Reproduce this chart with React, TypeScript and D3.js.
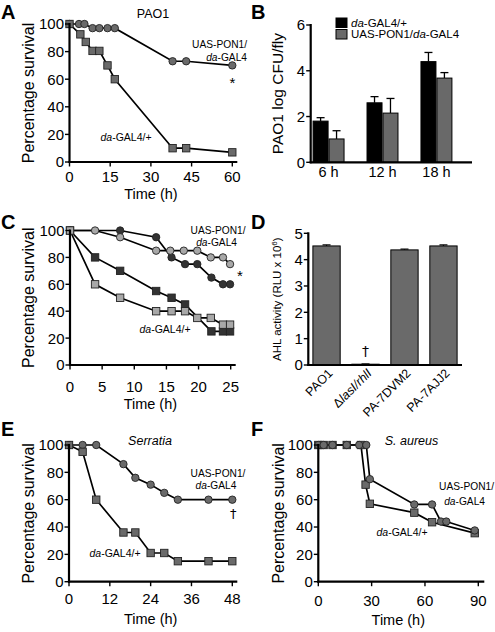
import React from 'react';
import * as d3 from 'd3';

const FONT = "'Liberation Sans', Arial, Helvetica, sans-serif";
const DAGGER_FONT = "'DejaVu Sans', 'Liberation Sans', sans-serif";

// ---------- Panel A (PAO1 survival) ----------
const aTimeUas = [0, 3.5, 5.5, 8.5, 11, 14, 16.7, 38, 43, 60];
const aSurvUas = [100, 100, 100, 97, 97, 97, 97, 73, 73, 70];
const aTimeDa = [0, 4, 6, 8.5, 11, 14, 16.7, 38, 43, 60];
const aSurvDa = [100, 92.5, 87, 80.5, 80.5, 70, 60, 10, 10, 7];
const aXTicks = [0, 15, 30, 45, 60];

// ---------- Panel B (PAO1 log CFU/fly) ----------
const bCategories = ['6 h', '12 h', '18 h'];
const bDaMeans = [1.8, 2.6, 4.4];
const bDaErr = [0.15, 0.27, 0.4];
const bUasMeans = [1.02, 2.15, 3.68];
const bUasErr = [0.36, 0.64, 0.24];
const bYTicks = [0, 2, 4, 6];

// ---------- Panel C (two experiments) ----------
const cDarkCircleT = [0, 7.8, 13.4, 15.8, 17.9, 19.8, 22, 23.8, 24.9];
const cDarkCircleS = [100, 100, 95, 80, 75, 75, 65, 60, 60];
const cLightCircleT = [0, 3.9, 7.8, 13.4, 15.6, 17.7, 19.8, 21.9, 23.8, 24.9];
const cLightCircleS = [100, 100, 95, 85, 85, 85, 85, 80, 80, 75];
const cDarkSquareT = [0, 3.9, 7.8, 13.4, 15.8, 17.9, 22, 23.8, 24.9];
const cDarkSquareS = [100, 80, 70, 55, 50, 45, 25, 25, 25];
const cLightSquareT = [0, 3.9, 7.8, 13.4, 15.8, 17.9, 19.8, 21.9, 23.8, 24.9];
const cLightSquareS = [100, 60, 50, 40, 40, 40, 35, 35, 30, 30];
const cXTicks = [0, 5, 10, 15, 20, 25];

// ---------- Panel D (AHL activity) ----------
const dStrains = ['PAO1', 'Δlas', 'PA-7DVM2', 'PA-7AJJ2'];
const dValues = [4.52, 0.03, 4.37, 4.52];
const dErr = [0.04, 0.01, 0.03, 0.04];
const dYTicks = [0, 1, 2, 3, 4, 5];

// ---------- Panel E (Serratia) ----------
const eTimeUas = [0, 4, 8, 16, 19.5, 24, 28, 32, 41, 48];
const eSurvUas = [100, 100, 100, 86, 76, 71, 65, 60, 60, 60];
const eTimeDa = [0, 4, 8, 16, 19.5, 24, 28, 32, 41, 48];
const eSurvDa = [100, 95, 60, 36, 36, 21, 21, 15, 15, 15];
const eXTicks = [0, 12, 24, 36, 48];

// ---------- Panel F (S. aureus) ----------
const fTimeUas = [0, 3, 8, 16, 23, 27, 29, 54, 64, 69, 72, 88];
const fSurvUas = [100, 100, 100, 100, 100, 100, 75, 56.5, 56.5, 44, 44, 37.5];
const fTimeDa = [0, 3, 8, 16, 24, 26.6, 29, 54, 64, 88];
const fSurvDa = [100, 100, 100, 100, 100, 71, 57, 50.5, 43.5, 35.5];
const fXTicks = [0, 30, 60, 90];

const survYTicks = [0, 20, 40, 60, 80, 100];

type Series = { t: number[]; s: number[]; shape: 'circle' | 'square'; fill: string };

function Symbol({ x, y, shape, fill }: { x: number; y: number; shape: string; fill: string }) {
  if (shape === 'circle') {
    return <circle cx={x} cy={y} r={3.7} fill={fill} stroke="#222" strokeWidth={0.9} />;
  }
  const s = 7.4;
  return <rect x={x - s / 2} y={y - s / 2} width={s} height={s} fill={fill} stroke="#222" strokeWidth={0.9} />;
}

function SurvivalPanel(props: {
  x0: number; x1: number; yTop: number; yBot: number; xMax: number; xTicks: number[];
  series: Series[]; tickBase: number; titleBase: number; yTitleX: number; xExt?: number;
}) {
  const { x0, x1, yTop, yBot, xMax, xTicks, series, tickBase, titleBase, yTitleX } = props;
  const xExt = props.xExt ?? 5;
  const x = d3.scaleLinear().domain([0, xMax]).range([x0, x1]);
  const y = d3.scaleLinear().domain([0, 100]).range([yBot, yTop]);
  return (
    <g>
      {series.map((se, i) => {
        const pts = se.t.map((t, k) => [x(t), y(se.s[k])] as [number, number]);
        return <path key={'l' + i} d={d3.line()(pts) || ''} fill="none" stroke="#000" strokeWidth={1.7} />;
      })}
      {series.map((se, i) => (
        <g key={'s' + i}>
          {se.t.map((t, k) => (
            <Symbol key={k} x={x(t)} y={y(se.s[k])} shape={se.shape} fill={se.fill} />
          ))}
        </g>
      ))}
      <line x1={x0} x2={x0} y1={yBot + 1} y2={yTop - 1} stroke="#000" strokeWidth={2.2} />
      <line x1={x0 - 1} x2={x1 + xExt} y1={yBot} y2={yBot} stroke="#000" strokeWidth={2.2} />
      {survYTicks.map((v) => (
        <g key={'yt' + v}>
          <line x1={x0 - 4.5} x2={x0} y1={y(v)} y2={y(v)} stroke="#000" strokeWidth={1.4} />
          <text x={x0 - 5.5} y={y(v)} dy="0.36em" textAnchor="end" fontSize={15} fontFamily={FONT}>{v}</text>
        </g>
      ))}
      {xTicks.map((v) => (
        <g key={'xt' + v}>
          <line x1={x(v)} x2={x(v)} y1={yBot} y2={yBot + 4.5} stroke="#000" strokeWidth={1.4} />
          <text x={x(v)} y={tickBase} textAnchor="middle" fontSize={15} fontFamily={FONT}>{v}</text>
        </g>
      ))}
      <text x={(x0 + x1) / 2} y={titleBase} textAnchor="middle" fontSize={14.5} fontFamily={FONT}>Time (h)</text>
      <text transform={`translate(${yTitleX},${(yTop + yBot) / 2}) rotate(-90)`} dy="0.36em" textAnchor="middle" fontSize={16} fontFamily={FONT}>Percentage survival</text>
    </g>
  );
}

function PanelB() {
  const ax = 310.7, yBot = 162.3, yTop = 25, xEnd = 472;
  const y = d3.scaleLinear().domain([0, 6]).range([yBot, yTop]);
  const xg = d3.scaleBand<string>().domain(bCategories).range([305, 460]).paddingInner(0.426).paddingOuter(0.15);
  const xs = d3.scaleBand<string>().domain(['da', 'uas']).range([0, xg.bandwidth()]).paddingInner(0.06);
  const groups = [
    { key: 'da', means: bDaMeans, err: bDaErr, fill: '#000' },
    { key: 'uas', means: bUasMeans, err: bUasErr, fill: '#696969' },
  ];
  return (
    <g>
      {groups.map((g) =>
        bCategories.map((c, i) => {
          const bx = (xg(c) || 0) + (xs(g.key) || 0);
          const bw = xs.bandwidth();
          const cx = bx + bw / 2;
          return (
            <g key={g.key + c}>
              <line x1={cx} x2={cx} y1={y(g.means[i])} y2={y(g.means[i] + g.err[i])} stroke="#000" strokeWidth={1.3} />
              <line x1={cx - 4} x2={cx + 4} y1={y(g.means[i] + g.err[i])} y2={y(g.means[i] + g.err[i])} stroke="#000" strokeWidth={1.3} />
              <rect x={bx} y={y(g.means[i])} width={bw} height={yBot - y(g.means[i])} fill={g.fill} stroke="#000" strokeWidth={1} />
            </g>
          );
        })
      )}
      <line x1={ax} x2={ax} y1={yBot + 1} y2={yTop - 1} stroke="#000" strokeWidth={2.2} />
      <line x1={ax - 1} x2={xEnd} y1={yBot} y2={yBot} stroke="#000" strokeWidth={2.2} />
      {bYTicks.map((v) => (
        <g key={v}>
          <line x1={ax - 4.5} x2={ax} y1={y(v)} y2={y(v)} stroke="#000" strokeWidth={1.4} />
          <text x={ax - 5.5} y={y(v)} dy="0.36em" textAnchor="end" fontSize={15} fontFamily={FONT}>{v}</text>
        </g>
      ))}
      {bCategories.map((c) => (
        <text key={c} x={(xg(c) || 0) + xg.bandwidth() / 2} y={176.5} textAnchor="middle" fontSize={14.5} fontFamily={FONT}>{c}</text>
      ))}
      <text transform={`translate(277,${(yTop + yBot) / 2}) rotate(-90)`} dy="0.36em" textAnchor="middle" fontSize={15.5} fontFamily={FONT}>PAO1 log CFU/fly</text>
      <rect x={336} y={18} width={11} height={9.5} fill="#000" stroke="#000" />
      <rect x={336} y={29.5} width={11} height={9.5} fill="#696969" stroke="#000" />
      <text x={351} y={26.5} fontSize={11.5} fontFamily={FONT}><tspan fontStyle="italic">da</tspan>-GAL4/+</text>
      <text x={351} y={38} fontSize={11.5} fontFamily={FONT}>UAS-PON1/<tspan fontStyle="italic">da</tspan>-GAL4</text>
    </g>
  );
}

function PanelD() {
  const ax = 308.3, yBot = 365, yTop = 233.3, xEnd = 462;
  const y = d3.scaleLinear().domain([0, 5]).range([yBot, yTop]);
  const x = d3.scaleBand<string>().domain(dStrains).range([309, 461]).paddingInner(0.3).paddingOuter(0.1);
  return (
    <g>
      {dStrains.map((s, i) => {
        const bx = x(s) || 0;
        const bw = x.bandwidth();
        const cx = bx + bw / 2;
        const top = y(dValues[i] + dErr[i]);
        return (
          <g key={s}>
            <line x1={cx} x2={cx} y1={y(dValues[i])} y2={top} stroke="#000" strokeWidth={1.2} />
            <line x1={cx - 4} x2={cx + 4} y1={top} y2={top} stroke="#000" strokeWidth={1.2} />
            <rect x={bx} y={y(dValues[i])} width={bw} height={Math.max(0.5, yBot - y(dValues[i]))} fill="#6a6a6a" stroke="#000" strokeWidth={1} />
          </g>
        );
      })}
      <line x1={ax} x2={ax} y1={yBot + 1} y2={yTop - 1} stroke="#000" strokeWidth={2.2} />
      <line x1={ax - 1} x2={xEnd} y1={yBot} y2={yBot} stroke="#000" strokeWidth={2.2} />
      {dYTicks.map((v) => (
        <g key={v}>
          <line x1={ax - 4.5} x2={ax} y1={y(v)} y2={y(v)} stroke="#000" strokeWidth={1.4} />
          <text x={ax - 5.5} y={y(v)} dy="0.36em" textAnchor="end" fontSize={15} fontFamily={FONT}>{v}</text>
        </g>
      ))}
      {dStrains.map((s) => {
        const cx = (x(s) || 0) + x.bandwidth() / 2 + 7;
        return (
          <text key={s} transform={`translate(${cx},${yBot + 9}) rotate(-45)`} textAnchor="end" fontSize={12.5} fontFamily={FONT}>
            {s === 'Δlas' ? (<>Δ<tspan fontStyle="italic">lasI/rhlI</tspan></>) : s}
          </text>
        );
      })}
      <text x={(x(dStrains[1]) || 0) + x.bandwidth() / 2} y={356} textAnchor="middle" fontSize={14} fontFamily={DAGGER_FONT} fill="#000">†</text>
      <text transform={`translate(277,${(yTop + yBot) / 2}) rotate(-90)`} dy="0.36em" textAnchor="middle" fontSize={11.5} fontFamily={FONT}>
        AHL activity (RLU x 10<tspan dy={-4} fontSize={8}>6</tspan><tspan dy={4}>)</tspan>
      </text>
    </g>
  );
}

const it = (s: string) => <tspan fontStyle="italic">{s}</tspan>;

export default function App() {
  const gray = '#6a6a6a';
  return (
    <svg width={495} height={632} style={{ position: 'absolute', left: 0, top: 0, background: '#fff' }} fontFamily={FONT}>
      <rect width={495} height={632} fill="#fff" />
      {[['A', 1, 18.5], ['B', 251, 18.5], ['C', 1, 228.5], ['D', 251, 228.5], ['E', 1, 435.5], ['F', 251, 435.5]].map(([l, lx, ly]) => (
        <text key={l as string} x={lx as number} y={ly as number} fontSize={20} fontWeight="bold" fontFamily={FONT}>{l}</text>
      ))}

      {/* A */}
      <SurvivalPanel x0={69.5} x1={232.3} yTop={24} yBot={162} xMax={60} xTicks={aXTicks}
        series={[
          { t: aTimeUas, s: aSurvUas, shape: 'circle', fill: gray },
          { t: aTimeDa, s: aSurvDa, shape: 'square', fill: gray },
        ]}
        tickBase={181.5} titleBase={198.5} yTitleX={28} />
      <text x={153} y={17.5} textAnchor="middle" fontSize={12.5}>PAO1</text>
      <text x={247} y={48} textAnchor="end" fontSize={10.2}>UAS-PON1/</text>
      <text x={247} y={60.5} textAnchor="end" fontSize={10.2}>{it('da')}-GAL4</text>
      <text x={232.3} y={88} textAnchor="middle" fontSize={15}>*</text>
      <text x={126} y={140.5} textAnchor="middle" fontSize={10.5}>{it('da')}-GAL4/+</text>

      <PanelB />

      {/* C */}
      <SurvivalPanel x0={70} x1={230.7} yTop={230.5} yBot={365} xMax={25} xTicks={cXTicks}
        series={[
          { t: cDarkCircleT, s: cDarkCircleS, shape: 'circle', fill: '#333' },
          { t: cLightCircleT, s: cLightCircleS, shape: 'circle', fill: '#a8a8a8' },
          { t: cDarkSquareT, s: cDarkSquareS, shape: 'square', fill: '#333' },
          { t: cLightSquareT, s: cLightSquareS, shape: 'square', fill: '#a8a8a8' },
        ]}
        tickBase={392} titleBase={408.5} yTitleX={28} />
      <text x={245.5} y={233.5} textAnchor="end" fontSize={10.2}>UAS-PON1/</text>
      <text x={237} y={245.5} textAnchor="end" fontSize={10.2}>{it('da')}-GAL4</text>
      <text x={240} y={281} textAnchor="middle" fontSize={15}>*</text>
      <text x={165} y={333} textAnchor="middle" fontSize={10.5}>{it('da')}-GAL4/+</text>

      <PanelD />

      {/* E */}
      <SurvivalPanel x0={69} x1={232.3} yTop={445} yBot={581.7} xMax={48} xTicks={eXTicks}
        series={[
          { t: eTimeUas, s: eSurvUas, shape: 'circle', fill: gray },
          { t: eTimeDa, s: eSurvDa, shape: 'square', fill: gray },
        ]}
        tickBase={603.5} titleBase={623.5} yTitleX={28} />
      <text x={150} y={444.5} textAnchor="middle" fontSize={12.5}>{it('Serratia')}</text>
      <text x={218} y={476.5} textAnchor="middle" fontSize={10.2}>UAS-PON1/</text>
      <text x={216} y={489} textAnchor="middle" fontSize={10.2}>{it('da')}-GAL4</text>
      <text x={233.3} y={518} textAnchor="middle" fontSize={13} fontFamily={DAGGER_FONT} fill="#000">†</text>
      <text x={115} y={557} textAnchor="middle" fontSize={10.5}>{it('da')}-GAL4/+</text>

      {/* F */}
      <SurvivalPanel x0={318.3} x1={478.3} yTop={445} yBot={581.7} xMax={90} xTicks={fXTicks}
        series={[
          { t: fTimeDa, s: fSurvDa, shape: 'square', fill: gray },
          { t: fTimeUas, s: fSurvUas, shape: 'circle', fill: gray },
        ]}
        tickBase={605.5} titleBase={624.5} yTitleX={278} xExt={6} />
      <text x={411.5} y={444.5} textAnchor="middle" fontSize={12.5}>{it('S. aureus')}</text>
      <text x={494} y={490} textAnchor="end" fontSize={10.2}>UAS-PON1/</text>
      <text x={485} y={505} textAnchor="end" fontSize={10.2}>{it('da')}-GAL4</text>
      <text x={402} y={536} textAnchor="middle" fontSize={10.5}>{it('da')}-GAL4/+</text>
    </svg>
  );
}
